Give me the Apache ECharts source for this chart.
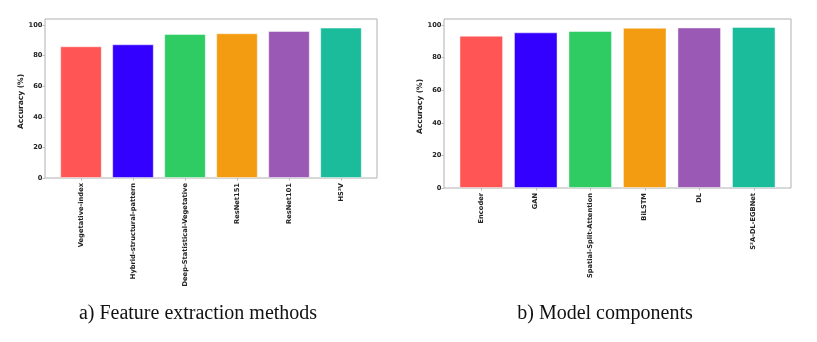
<!DOCTYPE html>
<html>
<head>
<meta charset="utf-8">
<script src="https://cdn.jsdelivr.net/npm/echarts@6/dist/echarts.min.js"></script>
<style>
  html, body { margin: 0; padding: 0; background: #fff; }
  #chart { width: 817px; height: 342px; }
</style>
</head>
<body>
<div id="chart"></div>
<script>
// left panel: feature extraction methods
const featureNames = ['Vegetative-index', 'Hybrid-structural-pattern', 'Deep-Statistical-Vegetative', 'ResNet151', 'ResNet101', 'HS\u00B2V']
const featureAcc = [86.1, 87.4, 94.1, 94.6, 96.1, 98.3]

// right panel: model components
const componentNames = ['Encoder', 'GAN', 'Spatial-Split-Attention', 'BiLSTM', 'DL', 'S\u00B2A-DL-EGBNet']
const componentAcc = [93.4, 95.5, 96.3, 98.3, 98.5, 98.8]

const yTicks = [0, 20, 40, 60, 80, 100]
const barColors = ['#ff5555', '#3300ff', '#2ecc63', '#f39c12', '#9b59b6', '#1abc9c']
const captions = ['a) Feature extraction methods', 'b) Model components']

const chart = echarts.init(document.getElementById('chart'))

const labelFont = { fontFamily: 'DejaVu Sans', fontWeight: 'bold', color: '#222' }

// frame grids (0, 1) draw the box, inner grids (2, 3) hold the data
const frameGrid = (left, right, top, bottom) => ({
  left, right, top, bottom,
  show: true, borderColor: '#b0b0b0', borderWidth: 1, backgroundColor: 'transparent'
})

const hiddenAxis = (gridIndex) => ({
  gridIndex, show: false, type: 'value', min: 0, max: 1
})

const catAxis = (gridIndex, names) => ({
  gridIndex,
  type: 'category',
  data: names,
  axisLine: { show: false },
  axisTick: { show: true, alignWithLabel: true, length: 2.5, lineStyle: { color: '#bbb' } },
  axisLabel: { ...labelFont, fontSize: 6.7, rotate: 90, margin: 5, interval: 0 }
})

const valAxis = (gridIndex) => ({
  gridIndex,
  type: 'value',
  min: yTicks[0],
  max: yTicks[yTicks.length - 1],
  interval: yTicks[1] - yTicks[0],
  offset: 10,
  name: 'Accuracy (%)',
  nameLocation: 'middle',
  nameGap: 18,
  nameTextStyle: { ...labelFont, fontSize: 7.5 },
  axisLine: { show: false },
  axisTick: { show: true, length: 2.5, lineStyle: { color: '#bbb' } },
  axisLabel: { ...labelFont, fontSize: 6.7, margin: 2.5 },
  splitLine: { show: false }
})

const barSeries = (idx, values) => ({
  type: 'bar',
  xAxisIndex: idx,
  yAxisIndex: idx,
  barWidth: '80%',
  data: values.map((v, i) => ({
    value: v,
    itemStyle: { color: barColors[i], borderColor: 'rgba(255,255,255,0.45)', borderWidth: 1 }
  }))
})

const captionStyle = { fontFamily: 'Liberation Serif', fontWeight: 'normal', fontSize: 20, color: '#111' }

const option = {
  animation: false,
  title: [
    { text: captions[0], left: 193, top: 299, textAlign: 'center', textStyle: captionStyle },
    { text: captions[1], left: 600, top: 299, textAlign: 'center', textStyle: captionStyle }
  ],
  grid: [
    frameGrid(45, 440, 19, 164),
    frameGrid(444, 26, 19, 154),
    { left: 55, right: 450, top: 25, bottom: 164 },
    { left: 454, right: 36, top: 25, bottom: 154 }
  ],
  xAxis: [
    { ...hiddenAxis(0) },
    { ...hiddenAxis(1) },
    catAxis(2, featureNames),
    catAxis(3, componentNames)
  ],
  yAxis: [
    { ...hiddenAxis(0) },
    { ...hiddenAxis(1) },
    valAxis(2),
    valAxis(3)
  ],
  series: [
    barSeries(2, featureAcc),
    barSeries(3, componentAcc)
  ]
}

chart.setOption(option)
</script>
</body>
</html>
